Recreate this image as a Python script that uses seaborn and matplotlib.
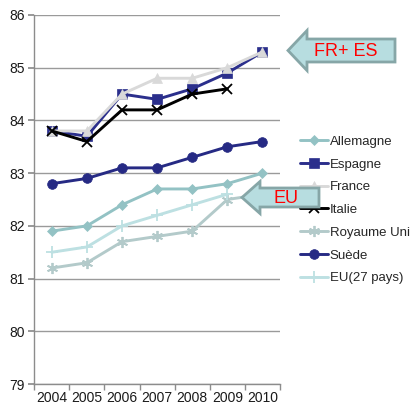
import matplotlib
matplotlib.use("Agg")
import matplotlib.pyplot as plt
from matplotlib.patches import Polygon
import seaborn as sns
import pandas as pd
import numpy as np

years = ["2004", "2005", "2006", "2007", "2008", "2009", "2010"]
allemagne = [81.9, 82.0, 82.4, 82.7, 82.7, 82.8, 83.0]
espagne = [83.8, 83.7, 84.5, 84.4, 84.6, 84.9, 85.3]
france = [83.8, 83.8, 84.5, 84.8, 84.8, 85.0, 85.3]
italie = [83.8, 83.6, 84.2, 84.2, 84.5, 84.6, None]
royaume_uni = [81.2, 81.3, 81.7, 81.8, 81.9, 82.5, 82.6]
suede = [82.8, 82.9, 83.1, 83.1, 83.3, 83.5, 83.6]
eu27 = [81.5, 81.6, 82.0, 82.2, 82.4, 82.6, None]

series = [
    ("Allemagne", allemagne, "#93c2c4", "D", 5),
    ("Espagne", espagne, "#2b2f8c", "s", 6.5),
    ("France", france, "#d9d9d9", "^", 7),
    ("Italie", italie, "#000000", "x", 7),
    ("Royaume Uni", royaume_uni, "#b3caca", (6, 2, 0), 8),
    ("Suède", suede, "#262a84", "o", 7),
    ("EU(27 pays)", eu27, "#bde0e2", "+", 8),
]

sns.set_theme(style="white")
plt.rcParams["font.family"] = ["Liberation Sans", "DejaVu Sans"]

W, H = 411, 408
fig = plt.figure(figsize=(W / 100, H / 100), dpi=100)
ax = fig.add_axes([34.3 / W, 1 - 384 / H, (280 - 34.3) / W, (384 - 15) / H])

handles = []
for name, vals, col, mk, ms in series:
    df = pd.DataFrame({"x": np.arange(len(years)), "y": pd.to_numeric(pd.Series(vals), errors="coerce")}).dropna()
    sns.lineplot(data=df, x="x", y="y", ax=ax, color=col, marker=mk, markersize=ms,
                 markeredgecolor=col, markerfacecolor=col, markeredgewidth=1.3 if mk in ("x", "+") or isinstance(mk, tuple) else 0.5,
                 linewidth=2.1, label=name, legend=False)
    handles.append(ax.lines[-1])

ax.set_xlim(-0.5, len(years) - 0.5)
ax.set_ylim(79, 86)
ax.set_yticks(range(79, 87))
ax.set_xticks(range(len(years)))
ax.set_xticklabels(years)
ax.set_xticks(np.arange(-0.5, len(years), 1.0), minor=True)
ax.set_xlabel("")
ax.set_ylabel("")
ax.grid(axis="y", color="#9a9a9a", linewidth=1.0)
ax.set_axisbelow(True)
for s in ["top", "right"]:
    ax.spines[s].set_visible(False)
for s in ["left", "bottom"]:
    ax.spines[s].set_color("#8c8c8c")
    ax.spines[s].set_linewidth(1.0)
ax.tick_params(axis="y", which="major", length=4, color="#8c8c8c", labelsize=10, pad=3, left=True)
ax.tick_params(axis="x", which="major", length=0, labelsize=10, pad=5)
ax.tick_params(axis="x", which="minor", length=4, color="#8c8c8c", bottom=True)
for t in ax.get_xticklabels() + ax.get_yticklabels():
    t.set_color("#1a1a1a")

leg = fig.legend(handles=handles, labels=[s[0] for s in series],
                 loc="upper left", bbox_to_anchor=(300 / W, 1 - 135.5 / H),
                 frameon=False, fontsize=9.5, handlelength=2.1, handletextpad=0.15,
                 labelspacing=0.8, borderaxespad=0, borderpad=0)

def arrow(tip, head_x, body_top, body_bot, right, head_top, head_bot):
    pts = [(tip[0], tip[1]), (head_x, head_top), (head_x, body_top), (right, body_top),
           (right, body_bot), (head_x, body_bot), (head_x, head_bot)]
    pts = [(x / W, 1 - y / H) for x, y in pts]
    p = Polygon(pts, closed=True, facecolor="#b7dde0", edgecolor="#86a6a7",
                linewidth=2.0, transform=fig.transFigure, zorder=20)
    fig.patches.append(p)

arrow((288, 50.5), 307, 39, 62, 395, 30.5, 70.5)
arrow((242, 197.5), 260, 188, 207, 319, 181.5, 213.5)
fig.text(346 / W, 1 - 51 / H, "FR+ ES", color="#ff0000", fontsize=13, ha="center", va="center", zorder=21)
fig.text(286 / W, 1 - 198 / H, "EU", color="#ff0000", fontsize=13, ha="center", va="center", zorder=21)

fig.savefig("out.png", dpi=100)
